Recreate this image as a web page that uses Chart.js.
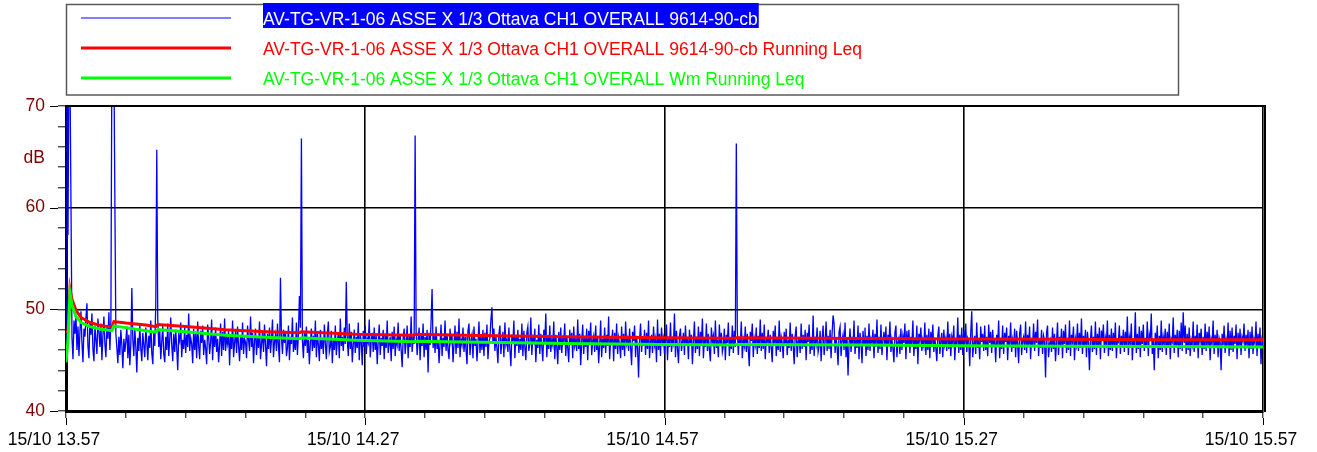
<!DOCTYPE html>
<html><head><meta charset="utf-8">
<script src="https://cdn.jsdelivr.net/npm/chart.js@4.4.1/dist/chart.umd.min.js"></script>
<style>html,body{margin:0;padding:0;background:#fff;}#wrap{width:1317px;height:452px;}</style>
</head><body><div id="wrap"><canvas id="c" width="1317" height="452"></canvas></div>
<script>
// ---- data ----
const seriesLabels = [
  'AV-TG-VR-1-06 ASSE X 1/3 Ottava CH1 OVERALL 9614-90-cb',
  'AV-TG-VR-1-06 ASSE X 1/3 Ottava CH1 OVERALL 9614-90-cb Running Leq',
  'AV-TG-VR-1-06 ASSE X 1/3 Ottava CH1 OVERALL Wm Running Leq'
];
const blueStepMin = 0.1; // minutes between samples, start 15/10 13.57
const blueValues = [
45.3,75,57.3,75,73,60.3,47.2,45.1,48.9,47.6,49.4,46.0,48.3,45.4,47.9,49.8,46.7,44.8,48.1,47.3,
49.2,50.6,46.4,45.2,48.7,47.5,49.6,46.1,44.9,48.4,47.0,45.6,49.1,47.8,46.3,48.6,45.0,47.4,49.3,46.6,
45.3,48.2,47.1,49.7,46.0,48.8,75,74,75,60.5,47.6,46.2,44.7,47.3,45.5,48.0,46.4,44.2,47.1,45.8,
46.9,48.3,45.2,47.5,44.5,46.6,52.1,47.0,45.4,48.1,46.3,43.8,47.2,45.9,48.5,46.1,44.9,47.7,46.5,45.3,
48.2,46.8,45.0,47.4,46.2,48.9,45.7,44.6,47.8,46.4,50.5,65.7,49.0,46.3,47.9,45.1,46.8,48.4,45.6,44.8,
47.3,46.0,48.6,45.4,47.1,49.2,46.5,44.9,47.6,45.8,48.0,46.2,44.0,47.4,46.9,48.7,45.3,47.0,46.1,48.3,
45.7,47.5,46.3,49.6,45.9,47.2,46.6,44.7,48.1,46.0,47.7,45.2,48.8,46.4,45.1,47.9,46.7,48.4,45.5,47.0,
46.2,44.6,48.5,47.3,45.6,46.8,49.0,45.0,47.6,46.3,48.2,45.8,47.1,44.8,46.5,48.6,45.4,47.8,46.0,49.1,
45.9,47.2,46.6,48.0,44.5,47.5,46.1,48.9,45.3,46.7,47.9,45.7,48.3,46.4,44.9,47.4,46.0,48.7,45.6,47.1,
46.8,45.2,48.4,47.0,45.9,49.3,46.3,47.7,44.7,46.9,48.1,45.5,47.3,46.2,48.8,45.1,46.6,47.8,45.8,48.5,
46.5,44.4,47.6,46.1,48.2,45.7,47.0,49.0,45.3,46.8,47.5,45.9,48.6,46.3,44.8,53.1,47.2,45.6,48.0,46.7,
47.9,45.4,46.2,48.4,45.0,47.3,46.6,49.2,45.8,47.1,46.0,48.7,45.5,47.6,51.3,48.2,66.8,46.9,45.2,47.8,
46.4,48.3,45.7,47.0,44.6,46.8,48.1,45.9,47.4,46.2,48.9,45.3,47.7,46.5,44.9,48.0,46.1,47.2,45.6,48.5,
46.7,45.1,47.5,48.8,45.8,46.3,47.9,44.7,47.1,46.0,48.4,45.5,46.9,47.6,45.2,49.1,46.4,47.3,45.9,48.2,
46.6,52.7,47.0,45.4,48.6,46.1,47.8,44.8,46.5,48.0,45.7,47.3,46.2,48.7,45.0,47.5,46.8,44.5,47.9,46.3,
48.4,45.6,47.1,46.7,49.0,45.3,46.9,47.7,45.8,48.2,46.0,47.4,44.6,46.8,48.5,45.5,47.2,46.4,48.0,45.1,
47.6,46.2,48.9,45.7,46.6,47.3,44.9,47.8,46.1,48.3,45.4,47.0,46.5,48.7,45.9,47.5,46.0,44.3,47.2,48.1,
45.6,46.8,48.4,45.2,47.4,46.3,49.3,45.8,47.1,46.6,67.1,47.9,45.5,46.9,48.2,45.0,47.6,46.4,48.6,45.3,
47.3,46.0,48.0,43.8,47.7,46.5,48.8,52.0,46.2,47.5,45.7,48.3,46.1,47.0,44.7,46.7,48.5,45.4,47.2,46.3,
48.9,45.9,47.6,46.0,45.1,48.1,46.8,47.4,44.8,46.6,48.4,45.6,47.8,46.2,49.1,45.3,47.0,46.5,48.2,45.8,
47.3,46.1,44.6,47.9,48.6,45.5,46.9,47.5,45.2,48.3,46.4,47.1,44.9,46.7,48.8,45.7,47.4,46.0,48.0,45.4,
47.7,46.3,48.5,45.1,46.8,47.2,49.0,50.2,46.6,48.1,45.9,47.3,46.2,44.7,47.6,48.4,45.6,46.9,47.8,45.3,
48.7,46.5,47.0,45.8,48.2,46.1,44.4,47.5,46.7,48.9,45.2,47.4,46.4,48.0,45.7,47.1,46.0,48.6,45.4,47.9,
46.3,45.0,47.7,48.3,45.9,46.6,49.2,45.5,47.2,46.8,48.1,44.8,47.0,46.2,48.5,45.6,47.6,46.4,44.9,48.0,
46.7,49.6,45.3,47.3,46.1,48.4,45.8,47.0,46.5,48.8,45.1,47.5,46.3,44.6,47.8,46.0,48.2,45.7,47.1,46.9,
48.6,45.4,47.4,46.2,44.8,48.0,46.6,47.7,45.2,48.3,46.4,47.0,45.9,49.0,46.1,47.6,44.5,46.8,48.5,45.6,
47.2,46.3,48.1,45.0,47.9,46.7,48.7,45.5,46.9,47.4,45.8,48.4,46.0,47.3,44.7,46.5,48.9,45.3,47.1,46.2,
48.2,45.7,47.5,46.4,49.3,45.1,47.0,46.8,48.0,44.9,47.7,46.1,48.6,45.6,47.2,46.5,45.2,48.3,46.0,47.6,
45.4,48.8,46.6,47.1,45.9,48.1,46.3,44.5,47.8,46.9,48.4,45.3,47.4,46.2,43.3,47.0,48.6,45.8,47.3,46.4,
48.0,45.5,47.7,46.1,48.9,45.2,46.8,47.5,45.7,48.3,46.5,47.1,44.8,49.0,46.0,47.6,45.4,48.2,46.7,47.2,
45.6,46.9,48.5,45.0,47.3,46.3,48.7,45.8,47.0,46.6,49.6,45.3,47.9,46.2,44.7,47.4,48.1,45.9,46.8,47.7,
45.5,48.4,46.4,47.2,45.1,48.0,46.7,47.5,44.6,46.9,48.8,45.7,47.3,46.1,48.3,45.4,47.8,46.6,49.1,45.2,
47.1,46.3,48.6,45.9,47.6,46.0,44.9,48.2,46.8,47.4,45.6,48.9,46.2,47.0,45.3,48.5,46.5,47.7,45.8,46.4,
48.1,45.0,47.5,46.7,48.7,45.4,47.2,46.1,48.4,45.7,47.9,46.3,66.3,48.0,45.5,47.3,46.6,48.8,45.2,47.0,
46.4,48.3,45.8,47.6,46.0,44.4,47.8,46.9,48.6,45.3,47.1,46.5,48.2,45.6,47.4,46.2,49.0,45.9,47.7,46.1,
48.5,45.1,47.0,46.8,48.0,45.7,47.5,46.3,44.8,47.9,46.6,48.4,45.4,47.2,46.0,48.9,45.8,47.3,46.7,45.2,
47.8,46.4,48.1,45.5,47.0,46.2,48.7,45.9,47.6,46.5,44.6,47.4,48.3,45.3,46.9,47.1,45.7,48.6,46.1,47.5,
46.3,48.0,45.0,47.7,46.8,48.5,45.6,47.2,46.0,49.4,45.4,47.3,46.6,48.2,45.8,46.4,47.9,44.9,47.0,48.4,
45.5,46.7,48.8,45.9,47.4,46.1,48.0,45.2,47.6,49.4,48.6,45.7,47.1,46.3,44.5,47.8,48.3,45.4,46.9,47.5,
46.0,48.7,45.3,47.2,43.5,46.6,48.1,45.8,47.3,46.4,48.9,45.6,47.0,46.2,48.4,45.1,47.7,46.8,44.7,47.9,
46.5,48.2,45.4,47.4,46.0,48.6,45.9,47.1,46.7,48.0,45.2,47.6,46.3,49.0,45.7,47.3,46.1,48.5,45.5,46.9,
47.8,46.4,48.3,45.0,47.5,46.6,48.8,45.8,47.0,46.2,44.8,47.7,48.4,45.3,46.8,47.2,45.6,48.1,46.0,47.4,
46.7,48.6,45.1,47.9,46.3,48.0,45.7,47.3,46.5,48.9,45.4,47.1,46.1,48.4,44.6,47.6,46.9,48.2,45.9,47.0,
46.4,48.7,45.5,47.5,46.0,48.1,45.2,47.8,46.6,48.5,45.8,47.2,46.2,44.9,47.4,48.3,45.6,46.8,47.7,45.3,
48.0,46.5,47.1,45.9,48.8,46.1,47.6,45.4,47.3,46.7,48.4,45.0,47.0,46.3,49.2,45.7,47.5,46.0,48.2,45.5,
47.9,46.4,48.6,45.8,47.2,46.9,44.4,47.7,49.8,45.3,46.6,47.4,45.6,48.7,46.2,47.0,45.1,48.3,46.8,47.6,
45.9,48.4,46.0,47.3,45.4,48.5,46.7,47.8,45.7,48.0,46.3,47.1,44.8,47.5,46.5,48.9,45.2,47.2,46.1,48.4,
45.6,47.7,46.8,48.2,45.0,47.4,46.4,48.7,45.8,47.0,46.2,48.1,45.3,47.9,46.6,44.7,47.6,48.5,45.5,46.9,
47.3,46.0,48.8,45.7,47.5,46.5,48.3,45.1,47.2,46.3,48.6,45.9,47.8,46.7,49.0,45.4,47.1,46.2,48.0,45.6,
47.4,46.9,43.3,47.7,48.4,45.3,46.6,47.0,45.8,48.2,46.1,47.6,44.9,46.8,48.7,45.5,47.3,46.4,48.1,45.2,
47.9,46.6,48.5,45.7,47.2,46.0,48.9,45.4,47.5,46.8,48.3,45.0,47.1,46.5,48.6,45.9,47.7,46.2,49.1,45.6,
47.4,46.3,48.0,45.3,47.8,46.7,44.0,47.0,48.4,45.8,47.3,46.1,48.8,45.5,47.6,46.4,48.2,45.1,47.9,46.9,
48.5,45.7,47.2,46.6,48.9,45.4,47.5,46.0,48.1,45.9,47.7,46.3,48.7,45.2,47.0,46.8,48.4,45.6,47.4,46.5,
48.0,45.8,47.8,46.2,49.3,45.5,47.3,46.7,48.6,45.0,47.1,46.4,49.7,45.7,47.6,46.1,48.3,45.3,47.9,46.6,
48.5,45.9,47.2,46.3,48.8,45.4,47.5,46.9,49.6,45.6,47.0,44.0,47.7,46.5,48.4,45.2,47.4,46.0,48.9,45.8,
47.3,46.6,48.1,45.5,47.8,46.2,48.6,45.1,47.1,46.8,49.2,45.7,47.5,46.4,48.0,45.3,47.9,46.1,48.7,45.9,
49.7,46.7,48.4,45.6,47.6,46.0,48.2,45.4,47.0,46.5,48.8,45.8,47.4,46.3,48.5,45.2,47.7,46.9,48.1,45.5,
47.3,46.1,48.6,45.9,47.8,46.4,48.3,45.0,47.1,46.7,48.9,45.6,47.5,46.2,48.0,45.3,47.2,46.8,44.0,47.6,
46.5,48.4,45.7,47.0,46.3,48.7,45.4,47.9,46.0,48.2,45.8,47.4,46.6,48.5,45.1,47.7,46.2,48.1,45.5,47.3,
46.9,48.6,45.9,47.5,46.4,48.0,45.2,47.8,46.1,48.3,45.6,47.1,46.7,48.8,45.4,47.6,46.3,48.2,44.6,47.0,
46.5
];
const redTimes  = [0,0.2,0.4,0.6,1.0,1.5,2.4,3.5,4.6,4.8,6,8,9.0,9.2,12,16,20,23.4,23.6,29,34.8,35.0,40,50,60,67.0,67.2,80,90,100,110,120];
const redValues = [47.8,47.8,52.0,51.0,49.9,49.2,48.7,48.4,48.25,48.8,48.65,48.45,48.3,48.5,48.3,48.0,47.8,47.7,47.8,47.55,47.45,47.55,47.45,47.3,47.2,47.15,47.2,47.12,47.08,47.05,47.02,47.0];
const greenTimes  = [0,0.2,0.4,0.6,1.0,1.5,2.4,3.5,4.6,4.8,6,8,9.0,9.2,12,16,20,23.4,23.6,29,35.0,35.2,40,50,60,67.0,67.2,80,90,100,110,120];
const greenValues = [44.8,47.0,51.6,50.4,49.3,48.7,48.3,48.05,47.9,48.35,48.2,47.9,47.75,48.0,47.8,47.45,47.25,47.1,47.2,46.95,46.8,46.85,46.78,46.65,46.55,46.5,46.55,46.48,46.42,46.38,46.35,46.3];
const xTickValues = [0,30,60,90,120];
const xTickLabels = ['15/10 13.57','15/10 14.27','15/10 14.57','15/10 15.27','15/10 15.57'];
const yMajorTicks = [40,50,60,70];
const yUnit = 'dB';

// ---- styles ----
const FONT = "'Liberation Sans', Arial, sans-serif";
const FSIZE = 17.5;
const axisRed = '#800000';
const legendLineWidths = [1, 3, 3];
Chart.defaults.font.family = FONT;
const near = (v, list) => list.some(t => Math.abs(v - t) < 1e-6);
const nearest = (v, list) => list.findIndex(t => Math.abs(v - t) < 1e-6);

const decor = {
  id: 'decor',
  afterDraw(chart) {
    const {ctx, chartArea: a, scales: {x, y}} = chart;
    ctx.save();
    ctx.strokeStyle = '#000';
    ctx.lineWidth = 1;
    yMajorTicks.forEach(v => {
      const py = Math.round(y.getPixelForValue(v)) + 0.5;
      ctx.beginPath(); ctx.moveTo(a.left - 16, py); ctx.lineTo(a.left - 8, py); ctx.stroke();
    });
    xTickValues.forEach(v => {
      const px = Math.round(x.getPixelForValue(v)) + 0.5;
      ctx.beginPath(); ctx.moveTo(px, a.bottom + 7); ctx.lineTo(px, a.bottom + 14); ctx.stroke();
    });
    ctx.lineWidth = 2;
    ctx.beginPath();
    ctx.moveTo(a.left, a.top); ctx.lineTo(a.right + 2, a.top); ctx.lineTo(a.right + 2, a.bottom + 1);
    ctx.stroke();
    ctx.font = FSIZE + 'px ' + FONT;
    ctx.fillStyle = axisRed; ctx.textAlign = 'right'; ctx.textBaseline = 'middle';
    ctx.fillText(yUnit, 45, y.getPixelForValue(65) + 1);
    // legend box
    ctx.lineWidth = 1.5; ctx.strokeStyle = '#5a5a5a';
    ctx.strokeRect(66.5, 4.5, 1112, 90.5);
    ctx.textAlign = 'left'; ctx.textBaseline = 'alphabetic';
    chart.data.datasets.forEach((ds, i) => {
      const cy = 18 + i * 30;
      ctx.strokeStyle = ds.borderColor; ctx.lineWidth = legendLineWidths[i];
      ctx.beginPath(); ctx.moveTo(81, cy); ctx.lineTo(231, cy); ctx.stroke();
      const w = ctx.measureText(ds.label).width;
      if (i === 0) { ctx.fillStyle = '#0000FF'; ctx.fillRect(263, cy - 15, w + 1, 25); ctx.fillStyle = '#fff'; }
      else ctx.fillStyle = ds.borderColor;
      ctx.fillText(ds.label, 263, cy + 7);
    });
    ctx.restore();
  }
};

new Chart(document.getElementById('c'), {
  type: 'line',
  data: {
    datasets: [
      { label: seriesLabels[0], data: blueValues.map((v, i) => ({x: i * blueStepMin, y: v})),
        borderColor: '#0000FF', borderWidth: 1.3, pointRadius: 0, tension: 0, order: 3, clip: 0 },
      { label: seriesLabels[1], data: redTimes.map((t, i) => ({x: t, y: redValues[i]})),
        borderColor: '#FF0000', borderWidth: 3, pointRadius: 0, tension: 0, order: 2, clip: 0 },
      { label: seriesLabels[2], data: greenTimes.map((t, i) => ({x: t, y: greenValues[i]})),
        borderColor: '#00FF00', borderWidth: 3, pointRadius: 0, tension: 0, order: 1, clip: 0 }
    ]
  },
  options: {
    responsive: false, animation: false, devicePixelRatio: 1,
    layout: { padding: { top: 106, right: 54, left: 0, bottom: 0 } },
    plugins: { legend: { display: false }, tooltip: { enabled: false } },
    scales: {
      x: {
        type: 'linear', min: 0, max: 120,
        afterFit: s => { s.height = 41; s.paddingLeft = 0; s.paddingRight = 0; },
        ticks: { stepSize: 6, maxTicksLimit: 100, autoSkip: false, maxRotation: 0, minRotation: 0,
          padding: 12, labelOffset: -12, color: '#000', font: { size: FSIZE },
          callback: v => { const k = nearest(v, xTickValues); return k >= 0 ? xTickLabels[k] : ''; } },
        grid: { color: c => (c.tick && near(c.tick.value, xTickValues)) ? '#000' : 'rgba(0,0,0,0)',
          tickColor: '#000', lineWidth: 1.6, tickWidth: 1, tickLength: 7 },
        border: { display: true, color: '#000', width: 3 }
      },
      y: {
        min: 40, max: 70,
        afterFit: s => { s.width = 66; s.paddingTop = 0; s.paddingBottom = 0; },
        ticks: { stepSize: 2, maxTicksLimit: 100, autoSkip: false, padding: 13, color: axisRed, font: { size: FSIZE },
          callback: v => near(v, yMajorTicks) ? String(Math.round(v)) : '' },
        grid: { color: c => (c.tick && near(c.tick.value, yMajorTicks)) ? '#000' : 'rgba(0,0,0,0)',
          tickColor: '#000', lineWidth: 1.6, tickWidth: 1, tickLength: 8 },
        border: { display: true, color: '#000', width: 3 }
      }
    }
  },
  plugins: [decor]
});
</script></body></html>
